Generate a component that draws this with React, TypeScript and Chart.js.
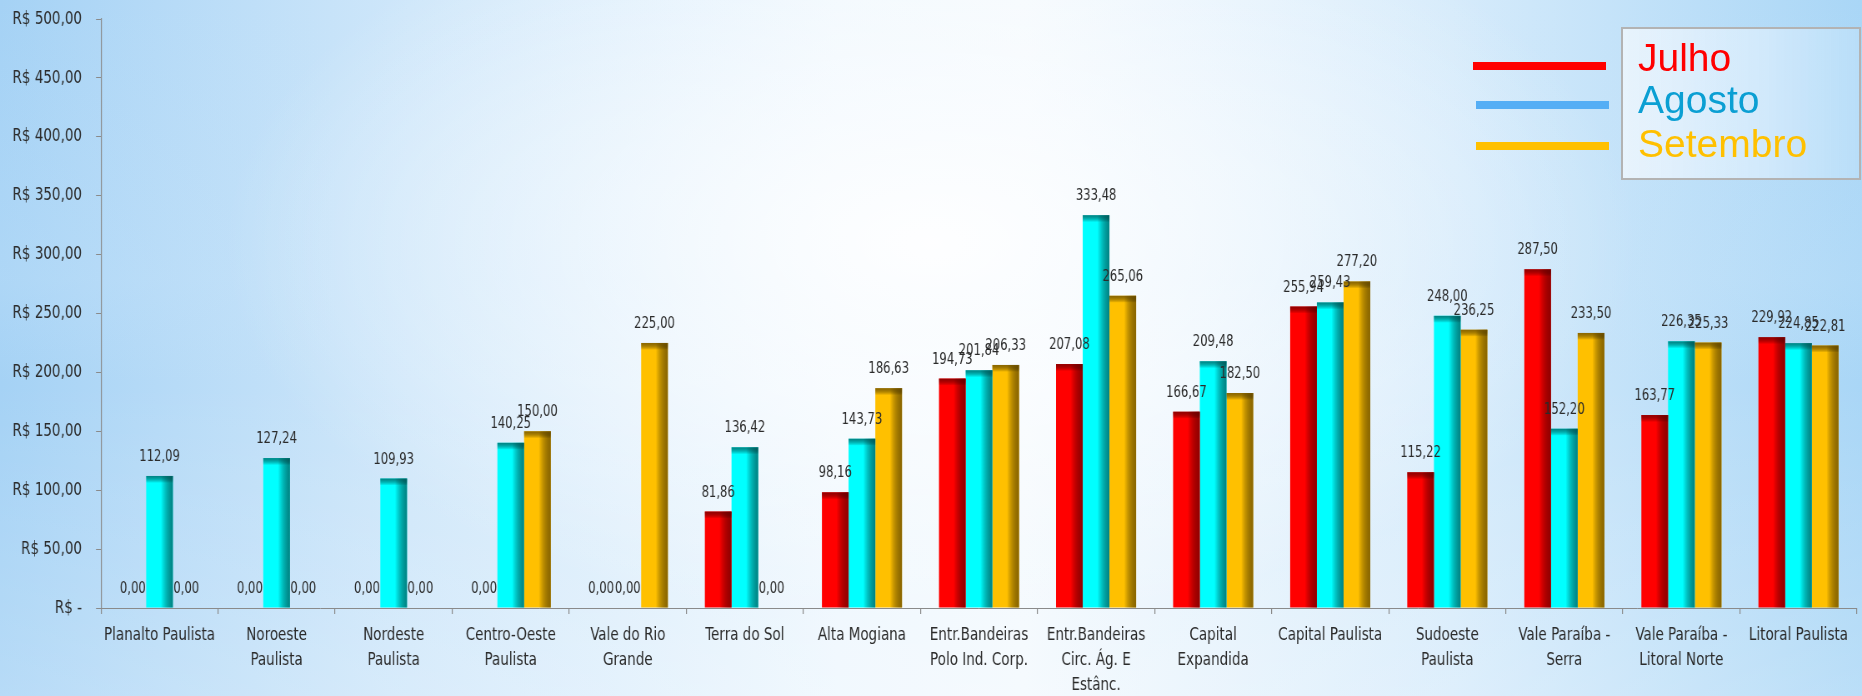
import React, { useEffect, useRef } from 'react';
import { Chart, registerables } from 'chart.js';

Chart.register(...registerables);

const categories: (string | string[])[] = [
  'Planalto Paulista',
  ['Noroeste', 'Paulista'],
  ['Nordeste', 'Paulista'],
  ['Centro-Oeste', 'Paulista'],
  ['Vale do Rio', 'Grande'],
  'Terra do Sol',
  'Alta Mogiana',
  ['Entr.Bandeiras', 'Polo Ind. Corp.'],
  ['Entr.Bandeiras', 'Circ. Ág. E', 'Estânc.'],
  ['Capital', 'Expandida'],
  'Capital Paulista',
  ['Sudoeste', 'Paulista'],
  ['Vale Paraíba -', 'Serra'],
  ['Vale Paraíba -', 'Litoral Norte'],
  'Litoral Paulista',
];

const julho = [0, 0, 0, 0, 0, 81.86, 98.16, 194.73, 207.08, 166.67, 255.94, 115.22, 287.5, 163.77, 229.92];
const agosto = [112.09, 127.24, 109.93, 140.25, 0, 136.42, 143.73, 201.84, 333.48, 209.48, 259.43, 248.0, 152.2, 226.35, 224.85];
const setembro = [0, 0, 0, 150.0, 225.0, 0, 186.63, 206.33, 265.06, 182.5, 277.2, 236.25, 233.5, 225.33, 222.81];

const seriesNames = ['Julho', 'Agosto', 'Setembro'];
const yMin = 0;
const yMax = 500;
const yStep = 50;

const barColors = ['#ff0000', '#00ffff', '#ffc000'];
const barDark = ['rgba(110,0,0,0.75)', 'rgba(0,90,90,0.75)', 'rgba(110,80,0,0.8)'];
const legendLineColors = ['#ff0000', '#55aef5', '#ffc000'];
const legendTextColors = ['#ff0000', '#0b9fd3', '#ffc000'];

const W = 1862;
const H = 696;
// canvas is drawn wider and shown at W, which gives the narrow, tall lettering of the original
const CW = 2234;
const K = CW / W;

const narrow = "'DejaVu Sans Condensed', 'DejaVu Sans', sans-serif";

const fmt = (v: number) => v.toFixed(2).replace('.', ',');

const shadePlugin = {
  id: 'shade',
  afterDatasetsDraw(chart: any) {
    const ctx = chart.ctx as CanvasRenderingContext2D;
    chart.data.datasets.forEach((_ds: any, di: number) => {
      const meta = chart.getDatasetMeta(di);
      meta.data.forEach((el: any) => {
        const w = el.width;
        const left = el.x - w / 2;
        const top = Math.min(el.y, el.base);
        const h = Math.abs(el.base - el.y);
        if (h < 0.5) return;
        ctx.save();
        const g = ctx.createLinearGradient(left, 0, left + w, 0);
        g.addColorStop(0, 'rgba(0,0,0,0)');
        g.addColorStop(0.55, 'rgba(0,0,0,0)');
        g.addColorStop(1, barDark[di]);
        ctx.fillStyle = g;
        ctx.fillRect(left, top, w, h);
        const th = Math.min(7, h);
        const g2 = ctx.createLinearGradient(0, top, 0, top + th);
        g2.addColorStop(0, barDark[di]);
        g2.addColorStop(1, 'rgba(0,0,0,0)');
        ctx.fillStyle = g2;
        ctx.fillRect(left, top, w, th);
        ctx.restore();
      });
    });
  },
};

const labelPlugin = {
  id: 'valueLabels',
  afterDatasetsDraw(chart: any) {
    const ctx = chart.ctx as CanvasRenderingContext2D;
    ctx.save();
    ctx.font = `15.5px ${narrow}`;
    ctx.fillStyle = '#2b2b2b';
    ctx.textAlign = 'center';
    ctx.textBaseline = 'alphabetic';
    chart.data.datasets.forEach((ds: any, di: number) => {
      const meta = chart.getDatasetMeta(di);
      meta.data.forEach((el: any, i: number) => {
        ctx.fillText(fmt(ds.data[i]), el.x, el.y - 15);
      });
    });
    ctx.restore();
  },
};

export default function App() {
  const ref = useRef<HTMLCanvasElement | null>(null);

  useEffect(() => {
    const canvas = ref.current;
    if (!canvas) return;
    const series = [julho, agosto, setembro];
    const chart = new Chart(canvas, {
      type: 'bar',
      data: {
        labels: categories,
        datasets: series.map((d, i) => ({
          label: seriesNames[i],
          data: d,
          backgroundColor: barColors[i],
          borderWidth: 0,
          categoryPercentage: 0.684,
          barPercentage: 1,
        })),
      },
      options: {
        responsive: false,
        devicePixelRatio: 1,
        animation: false,
        layout: { padding: { top: 19, right: 5 * K, left: 0, bottom: 0 } },
        plugins: {
          legend: { display: false },
          tooltip: { enabled: false },
        },
        scales: {
          x: {
            grid: {
              display: true,
              drawOnChartArea: false,
              drawTicks: true,
              tickLength: 6,
              color: '#8a8a8a',
              lineWidth: K,
              offset: true,
            },
            border: { display: true, color: '#8a8a8a', width: 1 },
            ticks: {
              autoSkip: false,
              maxRotation: 0,
              minRotation: 0,
              padding: 9,
              color: '#2b2b2b',
              font: { family: narrow, size: 18, lineHeight: 1.39 },
            },
            afterFit: (scale: any) => {
              scale.height = 88;
            },
          },
          y: {
            min: yMin,
            max: yMax,
            grid: {
              display: true,
              drawOnChartArea: false,
              drawTicks: true,
              tickLength: 5 * K,
              color: '#8a8a8a',
              lineWidth: 1,
            },
            border: { display: true, color: '#8a8a8a', width: K },
            ticks: {
              stepSize: yStep,
              padding: 14 * K,
              color: '#2b2b2b',
              font: { family: narrow, size: 18 },
              callback: (v: any) => (Number(v) === 0 ? 'R$ -' : 'R$ ' + fmt(Number(v))),
            },
            afterFit: (scale: any) => {
              scale.width = 101 * K;
              scale.paddingTop = 10;
              scale.paddingBottom = 10;
            },
          },
        },
      },
      plugins: [shadePlugin, labelPlugin],
    });
    return () => chart.destroy();
  }, []);

  const lineTops = [62, 101, 142];
  const lineLefts = [1473, 1476, 1476];
  const textTops = [37.7, 80.3, 123.7];

  return (
    <div
      style={{
        position: 'fixed',
        left: 0,
        top: 0,
        width: W,
        height: H,
        overflow: 'hidden',
        background:
          'radial-gradient(ellipse 38% 55% at 50% 35%, rgba(255,255,255,0.95) 0%, rgba(255,255,255,0.55) 45%, rgba(255,255,255,0) 100%), linear-gradient(to bottom, rgba(255,255,255,0) 0%, rgba(200,228,250,0.25) 40%, rgba(255,255,255,0) 55%, rgba(255,255,255,0.2) 100%), linear-gradient(to right, #a5d2f5 0%, #cfe7fa 22%, #eef7fe 45%, #f3f9fe 55%, #d6ebfb 78%, #a9d6f6 100%)',
      }}
    >
      <canvas ref={ref} width={CW} height={H} style={{ position: 'absolute', left: 0, top: 0, width: W, height: H }} />
      {seriesNames.map((n, i) => (
        <div
          key={'l' + n}
          style={{
            position: 'absolute',
            left: lineLefts[i],
            top: lineTops[i],
            width: 133,
            height: 8,
            background: legendLineColors[i],
          }}
        />
      ))}
      <div
        style={{
          position: 'absolute',
          left: 1621,
          top: 27,
          width: 236,
          height: 149,
          border: '2px solid #b3b3b3',
          background: 'linear-gradient(to right, rgba(238,246,253,0.85) 0%, rgba(212,234,251,0.9) 60%, rgba(185,222,248,0.95) 100%)',
        }}
      />
      {seriesNames.map((n, i) => (
        <div
          key={'t' + n}
          style={{
            position: 'absolute',
            left: 1638,
            top: textTops[i],
            fontFamily: "'Liberation Sans', Arial, sans-serif",
            fontSize: 39,
            lineHeight: '39px',
            color: legendTextColors[i],
            whiteSpace: 'nowrap',
          }}
        >
          {n}
        </div>
      ))}
    </div>
  );
}
